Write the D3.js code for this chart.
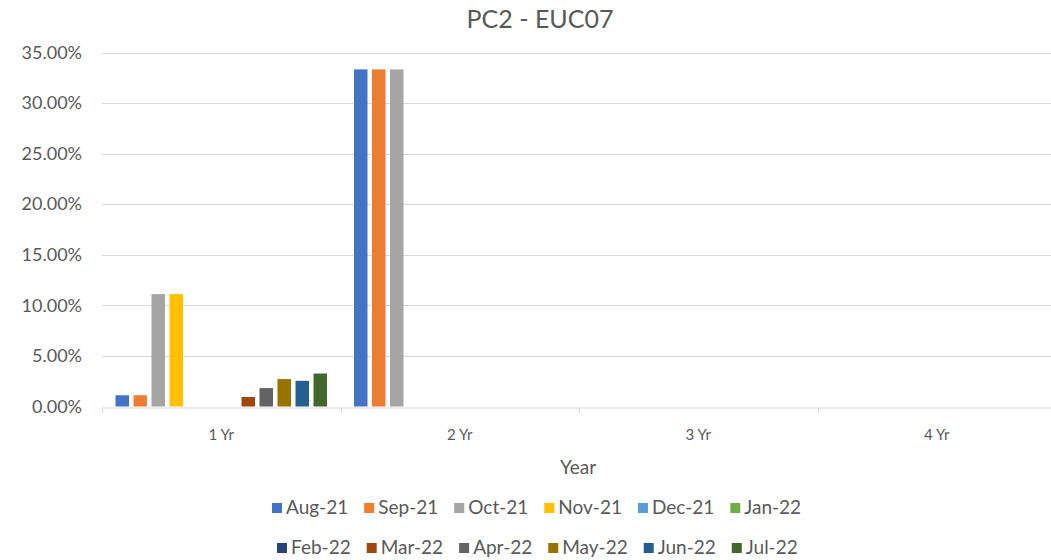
<!DOCTYPE html>
<html><head><meta charset="utf-8">
<script src="https://cdn.jsdelivr.net/npm/d3@7"></script>
<style>body{margin:0;background:#fff}svg{display:block}text{font-family:Lato,"Open Sans",sans-serif;fill:#595959}</style>
</head><body><svg id="c" width="1051" height="560"></svg>
<script>
const categories = ["1 Yr","2 Yr","3 Yr","4 Yr"];
const seriesNames = ["Aug-21","Sep-21","Oct-21","Nov-21","Dec-21","Jan-22","Feb-22","Mar-22","Apr-22","May-22","Jun-22","Jul-22"];
const seriesColors = ["#4472C4","#ED7D31","#A5A5A5","#FFC000","#5B9BD5","#70AD47","#264478","#9E480E","#636363","#997300","#255E91","#43682B"];
// values per series, in category order (1 Yr, 2 Yr, 3 Yr, 4 Yr)
const vAug = [0.0111, 0.3333, 0, 0];
const vSep = [0.0111, 0.3333, 0, 0];
const vOct = [0.1111, 0.3333, 0, 0];
const vNov = [0.1111, 0, 0, 0];
const vDec = [0, 0, 0, 0];
const vJan = [0, 0, 0, 0];
const vFeb = [0, 0, 0, 0];
const vMar = [0.0094, 0, 0, 0];
const vApr = [0.0182, 0, 0, 0];
const vMay = [0.0271, 0, 0, 0];
const vJun = [0.0254, 0, 0, 0];
const vJul = [0.0326, 0, 0, 0];
const yTicks = [0,0.05,0.10,0.15,0.20,0.25,0.30,0.35];
const title = "PC2 - EUC07";
const xTitle = "Year";

const values = [vAug,vSep,vOct,vNov,vDec,vJan,vFeb,vMar,vApr,vMay,vJun,vJul];
const svg = d3.select("#c");
const W = 1051;
const plot = {l:102, r:1056, t:52.5, b:406.5};
const x0 = d3.scaleBand().domain(categories).range([plot.l, plot.r]).paddingInner(0).paddingOuter(0);
const y = d3.scaleLinear().domain([0,0.35]).range([plot.b, plot.t]);
const x1 = d3.scaleBand().domain(seriesNames).range([0, x0.bandwidth()]).paddingInner(0.25).paddingOuter(0.75);

// gridlines
svg.append("g").selectAll("line").data(yTicks.filter(d=>d>0)).join("line")
  .attr("x1", plot.l).attr("x2", W).attr("y1", d=>Math.round(y(d))+0.5).attr("y2", d=>Math.round(y(d))+0.5)
  .attr("stroke","#d9d9d9").attr("stroke-width",1);

// bars
const g = svg.append("g");
seriesNames.forEach((s,i)=>{
  g.append("g").selectAll("rect").data(categories.map((c,j)=>({c, v: values[i][j]}))).join("rect")
    .attr("x", d=>x0(d.c)+x1(s)).attr("width", x1.bandwidth())
    .attr("y", d=>y(d.v)).attr("height", d=>y(0)-y(d.v))
    .attr("fill", seriesColors[i]);
});

// x axis
const xAxis = d3.axisBottom(x0).tickSize(0).tickPadding(22);
const xa = svg.append("g").attr("transform", `translate(0,${Math.round(plot.b)+0.5})`).call(xAxis);
xa.select(".domain").attr("stroke","#d9d9d9");
xa.selectAll("text").style("font-size","15px").attr("fill","#595959").style("font-family","Lato");
svg.append("g").selectAll("line").data(categories.map(c=>x0(c)).concat([x0.range()[1]])).join("line")
  .attr("x1", d=>Math.round(d)+0.5).attr("x2", d=>Math.round(d)+0.5)
  .attr("y1", Math.round(plot.b)+0.5).attr("y2", Math.round(plot.b)+6)
  .attr("stroke","#d9d9d9");

// y axis
const yAxis = d3.axisLeft(y).tickValues(yTicks).tickFormat(d3.format(".2%")).tickSize(0).tickPadding(20);
const ya = svg.append("g").attr("transform", `translate(${plot.l},0)`).call(yAxis);
ya.select(".domain").remove();
ya.selectAll("text").style("font-size","18px").attr("fill","#595959").style("font-family","Lato");

// titles
svg.append("text").attr("x", 540).attr("y", 28).attr("text-anchor","middle").style("font-size","25px").text(title);
svg.append("text").attr("x", 578).attr("y", 474).attr("text-anchor","middle").style("font-size","19px").text(xTitle);

// legend
const rows = [seriesNames.slice(0,6), seriesNames.slice(6)];
rows.forEach((row, ri)=>{
  const lg = svg.append("g");
  let xpos = 0;
  row.forEach(name=>{
    const idx = seriesNames.indexOf(name);
    const it = lg.append("g").attr("transform", `translate(${xpos},0)`);
    it.append("rect").attr("x",0).attr("y",-11).attr("width",10).attr("height",10).attr("fill", seriesColors[idx]);
    const t = it.append("text").attr("x",14).attr("y",0).style("font-size","19px").text(name);
    xpos += 14 + t.node().getComputedTextLength() + 16;
  });
  const total = xpos - 16;
  lg.attr("transform", `translate(${Math.round(537 - total/2)},${ri===0?514:554})`);
});
</script></body></html>
